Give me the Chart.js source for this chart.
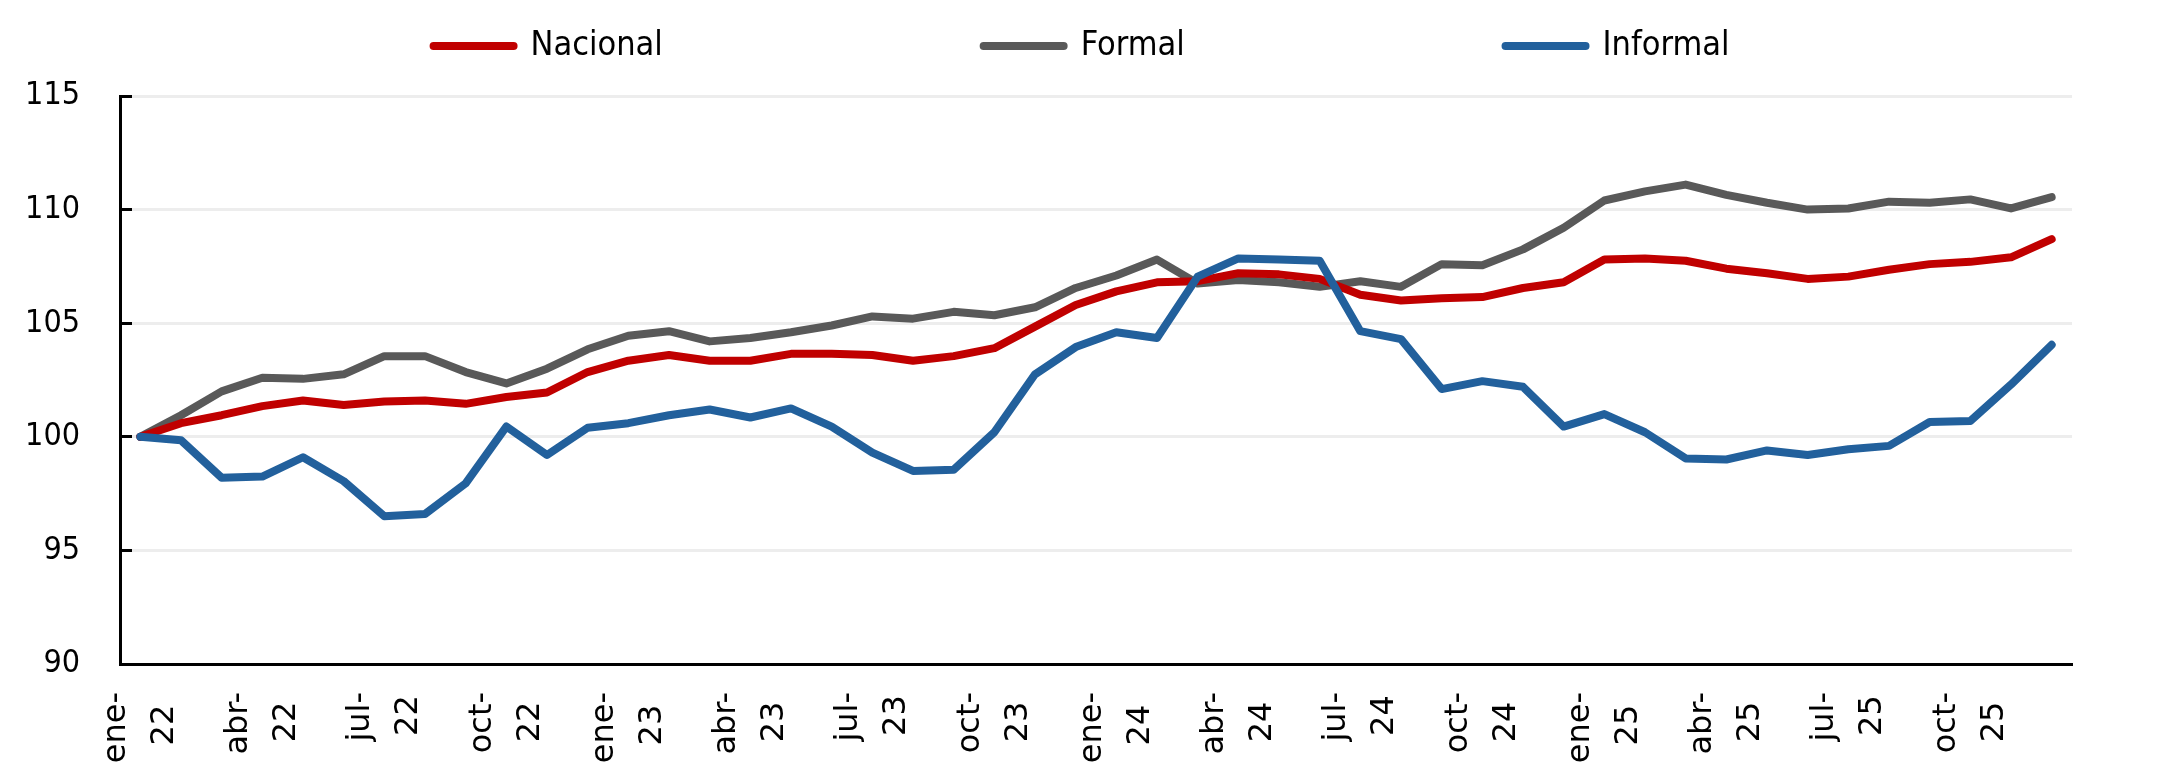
<!DOCTYPE html>
<html>
<head>
<meta charset="utf-8">
<script src="https://cdn.jsdelivr.net/npm/chart.js@4"></script>
<style>
  html, body { margin: 0; padding: 0; background: #fff; }
  #wrap { width: 2163px; height: 783px; position: relative; }
</style>
</head>
<body>
<div id="wrap"><canvas id="chart"></canvas></div>
<script>
// months ene-22 .. dic-25
const months = ['ene', 'feb', 'mar', 'abr', 'may', 'jun', 'jul', 'ago', 'sep', 'oct', 'nov', 'dic'];
const years = ['22', '23', '24', '25'];
const labels = [];
years.forEach((y) => months.forEach((m) => labels.push(m + '-' + y)));

const nacional = [
  100, 100.6, 100.95, 101.35, 101.6, 101.4, 101.55, 101.6, 101.45, 101.75, 101.95, 102.85,
  103.35, 103.6, 103.35, 103.35, 103.65, 103.65, 103.6, 103.35, 103.55, 103.9, 104.85, 105.8,
  106.4, 106.8, 106.85, 107.2, 107.15, 106.95, 106.25, 106.0, 106.1, 106.15, 106.55, 106.8,
  107.8, 107.85, 107.75, 107.4, 107.2, 106.95, 107.05, 107.35, 107.6, 107.7, 107.9, 108.7
];
const formal = [
  100, 100.95, 102.0, 102.6, 102.55, 102.75, 103.55, 103.55, 102.85, 102.35, 103.0, 103.85,
  104.45, 104.65, 104.2, 104.35, 104.6, 104.9, 105.3, 105.2, 105.5, 105.35, 105.7, 106.55,
  107.1, 107.8, 106.75, 106.9, 106.8, 106.6, 106.85, 106.6, 107.6, 107.55, 108.25, 109.2,
  110.4, 110.8, 111.1, 110.65, 110.3, 110.0, 110.05, 110.35, 110.3, 110.45, 110.05, 110.55
];
const informal = [
  100, 99.85, 98.2, 98.25, 99.1, 98.05, 96.5, 96.6, 97.95, 100.45, 99.2, 100.4,
  100.6, 100.95, 101.2, 100.85, 101.25, 100.45, 99.3, 98.5, 98.55, 100.2, 102.75, 103.95,
  104.6, 104.35, 107.05, 107.85, 107.8, 107.75, 104.65, 104.3, 102.1, 102.45, 102.2, 100.45,
  101.0, 100.2, 99.05, 99.0, 99.4, 99.2, 99.45, 99.6, 100.65, 100.7, 102.3, 104.05
];
const yTicks = [90, 95, 100, 105, 110, 115];

const seriesNames = ['Nacional', 'Formal', 'Informal'];
const seriesColors = ['#C00000', '#595959', '#22609C'];

const xFont = { family: 'DejaVu Sans', size: 32, lineHeight: 1.5 };
const condensed = '"DejaVu Sans Condensed", "DejaVu Sans", sans-serif';

// pad the short second line so the two rotated lines sit centred on each other
const mctx = document.createElement('canvas').getContext('2d');
mctx.font = xFont.size + 'px "' + xFont.family + '"';
function padLine(longer, shorter) {
  const target = (mctx.measureText(longer).width - mctx.measureText(shorter).width) / 2;
  const base = mctx.measureText(shorter).width;
  let s = shorter;
  while (mctx.measureText(s + '\u200A').width - base <= target) s += '\u200A';
  return s;
}

const datasets = [nacional, formal, informal].map((data, i) => ({
  label: seriesNames[i],
  data: data,
  xAxisID: 'x',
  yAxisID: 'y',
  borderColor: seriesColors[i],
  backgroundColor: seriesColors[i],
  borderWidth: 8,
  borderCapStyle: 'round',
  borderJoinStyle: 'round',
  pointRadius: 0,
  tension: 0,
  fill: false,
  order: [1, 2, 0][i]
}));

// empty axis used only to reserve room (keeps the legend centred on the canvas)
const spacer = (pos, size) => ({
  type: pos === 'right' ? 'linear' : 'category',
  position: pos,
  display: true,
  grid: { display: false, drawTicks: false },
  border: { display: false },
  ticks: { display: false },
  afterFit(scale) {
    if (pos === 'right') scale.width = size; else scale.height = size;
  }
});

new Chart(document.getElementById('chart'), {
  type: 'line',
  data: { labels: labels, datasets: datasets },
  options: {
    responsive: true,
    maintainAspectRatio: false,
    devicePixelRatio: 1,
    animation: false,
    layout: { padding: { top: 19, right: 0, bottom: 0, left: 0 } },
    plugins: {
      tooltip: { enabled: false },
      legend: {
        position: 'top',
        labels: {
          font: { family: condensed, size: 34 },
          color: '#000',
          padding: 10,
          usePointStyle: true,
          pointStyle: 'line',
          pointStyleWidth: 80,
          generateLabels(chart) {
            const items = Chart.defaults.plugins.legend.labels.generateLabels(chart);
            items.sort((a, b) => a.datasetIndex - b.datasetIndex);
            const ctx = chart.ctx;
            ctx.save();
            ctx.font = '34px ' + condensed;
            const sp = ctx.measureText(' ').width;
            ctx.restore();
            items.forEach((it, i) => {
              it.pointStyle = 'line';
              it.lineCap = 'round';
              it.lineWidth = 8;
              if (i < items.length - 1) it.text += ' '.repeat(Math.round(306 / sp));
            });
            return items;
          }
        }
      }
    },
    scales: {
      x: {
        type: 'category',
        offset: true,
        grid: { display: false, drawTicks: false },
        border: { display: true, color: '#000', width: 3 },
        ticks: {
          autoSkip: false,
          minRotation: 90,
          maxRotation: 90,
          padding: 28,
          labelOffset: -24,
          color: '#000',
          font: xFont,
          callback(value, index) {
            if (index % 3 !== 0) return '';
            const [m, y] = this.getLabelForValue(value).split('-');
            return [m + '-', padLine(m + '-', y)];
          }
        },
        afterFit(scale) { scale.height = 119; }
      },
      xTop: spacer('top', 23),
      yRight: spacer('right', 91),
      y: {
        min: yTicks[0],
        max: yTicks[yTicks.length - 1],
        grid: {
          color: '#EDEDED',
          lineWidth: 3,
          drawTicks: true,
          tickLength: -12,
          tickColor: '#000',
          tickWidth: 3
        },
        border: { display: true, color: '#000', width: 3 },
        afterBuildTicks(scale) { scale.ticks = yTicks.map((v) => ({ value: v })); },
        ticks: {
          padding: 52,
          color: '#000',
          font: { family: condensed, size: 32 }
        },
        afterFit(scale) { scale.width = 120; }
      }
    }
  }
});
</script>
</body>
</html>
